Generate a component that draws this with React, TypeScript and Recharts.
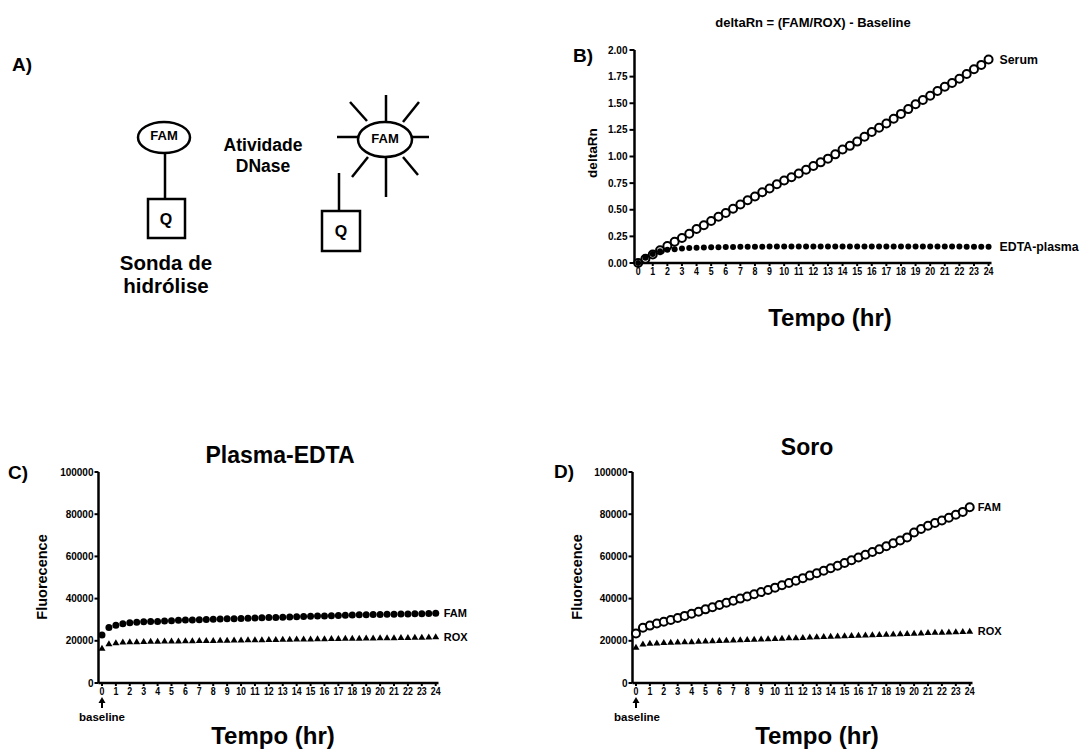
import { ScatterChart, Scatter, XAxis, YAxis } from "recharts";

const FONT = '"Liberation Sans", Arial, sans-serif';

// sampling times (hr), one reading every 30 min
const TIMES = [
  0, 0.5, 1, 1.5, 2, 2.5, 3, 3.5, 4, 4.5, 5, 5.5, 6, 6.5, 7, 7.5, 8, 8.5, 9, 9.5,
  10, 10.5, 11, 11.5, 12, 12.5, 13, 13.5, 14, 14.5, 15, 15.5, 16, 16.5, 17, 17.5,
  18, 18.5, 19, 19.5, 20, 20.5, 21, 21.5, 22, 22.5, 23, 23.5, 24,
];
const X_TICKS = [0, 1, 2, 3, 4, 5, 6, 7, 8, 9, 10, 11, 12, 13, 14, 15, 16, 17, 18, 19, 20, 21, 22, 23, 24];
const DRN_TICKS = [0, 0.25, 0.5, 0.75, 1, 1.25, 1.5, 1.75, 2];
const FLUO_TICKS = [0, 20000, 40000, 60000, 80000, 100000];

// B) deltaRn
const SERUM = [
  0, 0.04, 0.08, 0.12, 0.16, 0.2, 0.235, 0.275, 0.32, 0.355, 0.395, 0.435, 0.47, 0.51,
  0.55, 0.59, 0.625, 0.665, 0.7, 0.74, 0.775, 0.805, 0.84, 0.875, 0.91, 0.945, 0.98,
  1.02, 1.065, 1.1, 1.14, 1.185, 1.23, 1.27, 1.31, 1.355, 1.4, 1.445, 1.49, 1.53, 1.57,
  1.615, 1.655, 1.69, 1.73, 1.775, 1.82, 1.86, 1.91,
];
const EDTA_PLASMA = [
  0, 0.05, 0.085, 0.11, 0.125, 0.13, 0.135, 0.14, 0.143, 0.145, 0.147, 0.149, 0.15,
  0.151, 0.152, 0.152, 0.153, 0.153, 0.154, 0.154, 0.155, 0.155, 0.155, 0.155, 0.155,
  0.155, 0.155, 0.155, 0.155, 0.155, 0.155, 0.155, 0.155, 0.155, 0.155, 0.155, 0.155,
  0.155, 0.155, 0.155, 0.155, 0.154, 0.154, 0.154, 0.154, 0.153, 0.153, 0.153, 0.153,
];

// C) Plasma-EDTA raw fluorescence
const PLASMA_FAM = [
  22700, 26300, 27400, 28100, 28600, 28800, 29000, 29100, 29200, 29400, 29500, 29700,
  29800, 29900, 30000, 30100, 30200, 30300, 30400, 30500, 30600, 30700, 30800, 30900,
  31000, 31100, 31200, 31300, 31400, 31500, 31600, 31700, 31800, 31900, 32000, 32100,
  32200, 32300, 32400, 32450, 32500, 32550, 32600, 32700, 32750, 32800, 32850, 32900, 33000,
];
const PLASMA_ROX = [
  16500, 18600, 19100, 19400, 19500, 19600, 19700, 19750, 19800, 19850, 19900, 19950,
  20000, 20050, 20100, 20150, 20200, 20250, 20300, 20350, 20400, 20450, 20500, 20550,
  20600, 20650, 20700, 20750, 20800, 20850, 20900, 20950, 21000, 21050, 21100, 21150,
  21200, 21250, 21300, 21350, 21400, 21450, 21500, 21550, 21600, 21650, 21700, 21800, 21900,
];

// D) Soro raw fluorescence
const SORO_FAM = [
  23500, 26200, 27200, 28200, 29000, 29900, 30800, 31800, 32800, 33800, 34900, 35900,
  37000, 38000, 39000, 40000, 41000, 42100, 43100, 44100, 45200, 46300, 47400, 48500,
  49700, 50900, 52000, 53200, 54400, 55600, 56900, 58200, 59500, 60800, 62100, 63400,
  64800, 66200, 67500, 69000, 71300, 73000, 74500, 75800, 77000, 78300, 79700, 81100, 83300,
];
const SORO_ROX = [
  17000, 18500, 18800, 19000, 19200, 19300, 19400, 19500, 19600, 19750, 19900, 20000,
  20100, 20250, 20400, 20500, 20600, 20750, 20900, 21000, 21100, 21250, 21400, 21500,
  21600, 21750, 21900, 22000, 22100, 22250, 22400, 22500, 22600, 22750, 22900, 23000,
  23100, 23250, 23400, 23500, 23600, 23750, 23900, 24000, 24100, 24200, 24300, 24400, 24500,
];

const rows = (vals: number[]) => TIMES.map((t, i) => ({ t, v: vals[i] }));
const LAST_T = TIMES[TIMES.length - 1];

function endLabel(p: any, label: string | undefined, size: number, dx: number) {
  if (!label || p.payload?.t !== LAST_T) return null;
  return (
    <text
      x={p.cx + dx}
      y={p.cy}
      dominantBaseline="central"
      fontFamily={FONT}
      fontWeight={700}
      fontSize={size}
      fill="#000"
    >
      {label}
    </text>
  );
}

const dot = (r: number, open: boolean, label?: string, size = 11, dx = 8) => (p: any) => (
  <g>
    <circle
      cx={p.cx}
      cy={p.cy}
      r={r}
      fill={open ? "#fff" : "#000"}
      stroke="#000"
      strokeWidth={open ? 2 : 0}
    />
    {endLabel(p, label, size, dx)}
  </g>
);

const tri = (label?: string) => (p: any) => (
  <g>
    <polygon
      points={`${p.cx},${p.cy - 3.5} ${p.cx + 3.5},${p.cy + 2.5} ${p.cx - 3.5},${p.cy + 2.5}`}
      fill="#000"
    />
    {endLabel(p, label, 11, 8)}
  </g>
);

const tickStyle = { fontSize: 10, fontWeight: 700, fill: "#000", fontFamily: FONT };
const axisLine = { stroke: "#000", strokeWidth: 2.5 };
const tickLine = { stroke: "#000", strokeWidth: 2 };

// narrow, tall digits like the original export
function TimeTick(p: any) {
  return (
    <text
      x={0}
      y={0}
      dy="0.71em"
      transform={`translate(${p.x} ${p.y}) scale(0.8 1)`}
      textAnchor="middle"
      fontSize={11}
      fontWeight={700}
      fontFamily={FONT}
      fill="#000"
    >
      {p.payload.value}
    </text>
  );
}

function TimeAxis({ height }: { height: number }) {
  return (
    <XAxis
      type="number"
      dataKey="t"
      domain={[-0.25, 24.2]}
      ticks={X_TICKS}
      interval={0}
      tick={TimeTick}
      tickSize={3}
      tickMargin={1}
      axisLine={axisLine}
      tickLine={tickLine}
      height={height}
    />
  );
}

function DeltaRnChart() {
  return (
    <ScatterChart width={523} height={340} margin={{ top: 50, right: 91.5, bottom: 47, left: 24.5 }}>
      {TimeAxis({ height: 30 })}
      <YAxis
        type="number"
        dataKey="v"
        domain={[0, 2]}
        ticks={DRN_TICKS}
        tickFormatter={(v: number) => v.toFixed(2)}
        tick={tickStyle}
        tickSize={5}
        tickMargin={2}
        axisLine={axisLine}
        tickLine={tickLine}
        width={50}
      />
      <Scatter data={rows(SERUM)} shape={dot(4, true, "Serum", 12.3, 11)} isAnimationActive={false} />
      <Scatter data={rows(EDTA_PLASMA)} shape={dot(3, false, "EDTA-plasma", 12.3, 11)} isAnimationActive={false} />
    </ScatterChart>
  );
}

function FluoChart({ width, left, right, fam, rox, openFam }: any) {
  return (
    <ScatterChart width={width} height={319} margin={{ top: 42, right, bottom: 41, left }}>
      {TimeAxis({ height: 25 })}
      <YAxis
        type="number"
        dataKey="v"
        domain={[0, 100000]}
        ticks={FLUO_TICKS}
        tick={tickStyle}
        tickSize={4}
        tickMargin={1}
        axisLine={axisLine}
        tickLine={tickLine}
        width={57}
      />
      <Scatter data={rows(fam)} shape={dot(openFam ? 4 : 3.5, openFam, "FAM")} isAnimationActive={false} />
      <Scatter data={rows(rox)} shape={tri("ROX")} isAnimationActive={false} />
    </ScatterChart>
  );
}

function T({ x, y, size, children, rotate, anchor = "middle" }: any) {
  return (
    <text
      x={x}
      y={y}
      fontSize={size}
      fontWeight={700}
      fontFamily={FONT}
      fill="#000"
      textAnchor={anchor}
      dominantBaseline="central"
      transform={rotate ? `rotate(-90 ${x} ${y})` : undefined}
    >
      {children}
    </text>
  );
}

function Overlay() {
  const s = { stroke: "#000", strokeWidth: 2.5, fill: "none" };
  return (
    <svg
      width={1083}
      height={749}
      style={{ position: "absolute", left: 0, top: 0, pointerEvents: "none" }}
    >
      {/* A) probe diagram */}
      <T x={22} y={64} size={19}>A)</T>
      <ellipse cx={164} cy={137.5} rx={26} ry={15.5} {...s} />
      <T x={164} y={135} size={13}>FAM</T>
      <line x1={165} y1={153} x2={165} y2={199} {...s} />
      <rect x={148} y={199} width={37} height={39} {...s} />
      <T x={166} y={219} size={16}>Q</T>
      <T x={166} y={262} size={20.5}>Sonda de</T>
      <T x={166} y={285} size={20.5}>hidrólise</T>
      <T x={263} y={145} size={17.5}>Atividade</T>
      <T x={263} y={166} size={17.5}>DNase</T>
      <ellipse cx={385} cy={139.5} rx={27} ry={17.5} {...s} />
      <T x={385} y={138} size={13}>FAM</T>
      <line x1={386} y1={95} x2={386} y2={121} {...s} />
      <line x1={386} y1={158} x2={386} y2={197} {...s} />
      <line x1={337} y1={137} x2={358} y2={137} {...s} />
      <line x1={412} y1={137} x2={429} y2={137} {...s} />
      <line x1={350} y1={102} x2={367} y2={121} {...s} />
      <line x1={419} y1={102} x2={403} y2={122} {...s} />
      <line x1={352} y1={177} x2={368} y2={157} {...s} />
      <line x1={418} y1={175} x2={403} y2={157} {...s} />
      <line x1={339} y1={173} x2={339} y2={211} {...s} />
      <rect x={322} y={211} width={38} height={40} {...s} />
      <T x={341} y={231} size={16}>Q</T>

      {/* B) */}
      <T x={583} y={55} size={19}>B)</T>
      <T x={813} y={22} size={13}>deltaRn = (FAM/ROX) - Baseline</T>
      <T x={592} y={153} size={13.6} rotate>deltaRn</T>
      <T x={830} y={317} size={24}>Tempo (hr)</T>

      {/* C) */}
      <T x={18} y={472} size={19}>C)</T>
      <T x={280} y={455} size={23}>Plasma-EDTA</T>
      <T x={42} y={577} size={14.5} rotate>Fluorecence</T>
      <line x1={102} y1={702} x2={102} y2={708} stroke="#000" strokeWidth={2} />
      <polygon points="102,697 98.5,703 105.5,703" fill="#000" />
      <T x={102} y={717} size={11.5}>baseline</T>
      <T x={273} y={735} size={24}>Tempo (hr)</T>

      {/* D) */}
      <T x={564} y={471} size={19}>D)</T>
      <T x={807} y={447} size={23}>Soro</T>
      <T x={577} y={577} size={14.5} rotate>Fluorecence</T>
      <line x1={636} y1={702} x2={636} y2={708} stroke="#000" strokeWidth={2} />
      <polygon points="636,697 632.5,703 639.5,703" fill="#000" />
      <T x={637} y={717} size={11.5}>baseline</T>
      <T x={817} y={735} size={24}>Tempo (hr)</T>
    </svg>
  );
}

export default function App() {
  return (
    <div
      style={{
        position: "absolute",
        left: 0,
        top: 0,
        width: 1083,
        height: 749,
        background: "#fff",
        overflow: "hidden",
        fontFamily: FONT,
      }}
    >
      <div style={{ position: "absolute", left: 560, top: 0 }}>
        <DeltaRnChart />
      </div>
      <div style={{ position: "absolute", left: 0, top: 430 }}>
        <FluoChart width={540} left={41.5} right={101.5} fam={PLASMA_FAM} rox={PLASMA_ROX} openFam={false} />
      </div>
      <div style={{ position: "absolute", left: 540, top: 430 }}>
        <FluoChart width={543} left={35.5} right={110.5} fam={SORO_FAM} rox={SORO_ROX} openFam={true} />
      </div>
      <Overlay />
    </div>
  );
}
